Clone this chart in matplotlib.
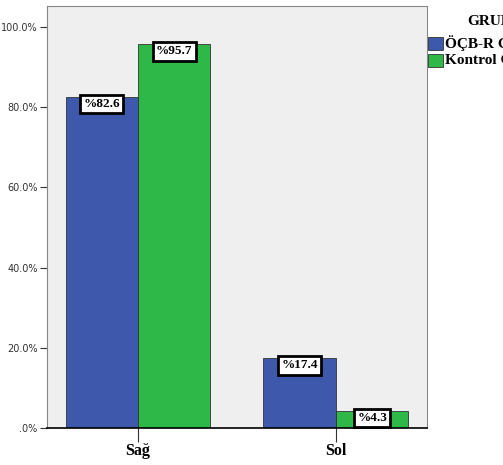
import matplotlib.pyplot as plt
from matplotlib.patches import Rectangle
from matplotlib.ticker import FuncFormatter

# data
categories = ["Sağ", "Sol"]
groups = ["ÖÇB-R Grubu", "Kontrol Grubu"]
ocbr_vals = [82.6, 17.4]
kontrol_vals = [95.7, 4.3]
colors = ["#3E58AC", "#2EB848"]

W, H = 503, 465
fig = plt.figure(figsize=(W / 100, H / 100), dpi=100)
ax = fig.add_axes([46.7 / W, 37 / H, (427 - 46.7) / W, (459 - 37) / H])
ax.set_facecolor("#EFEFEF")

x = [0, 1]
bw = 0.366
for i, vals in enumerate([ocbr_vals, kontrol_vals]):
    pos = [xi - bw / 2 + i * bw for xi in x]
    ax.bar(pos, vals, width=bw, color=colors[i], edgecolor="#333333", linewidth=0.6)
    for p, v in zip(pos, vals):
        ax.text(p, v - 0.3, "%%%.1f" % v, ha="center", va="top", fontsize=9.5,
                family="Liberation Serif", fontweight="bold",
                bbox=dict(boxstyle="square,pad=0.25", fc="white", ec="black", lw=2))

ax.set_xlim(-0.461, 1.46)
ax.set_ylim(0, 105.2)
ax.set_yticks([0, 20, 40, 60, 80, 100])
ax.yaxis.set_major_formatter(FuncFormatter(lambda v, _: ".0%" if v == 0 else "%.1f%%" % v))
ax.set_xticks(x)
ax.set_xticklabels(categories, family="Liberation Serif", fontweight="bold", fontsize=11.5)
ax.tick_params(axis="y", labelsize=7, labelcolor="#333333", length=5, color="#333333", pad=1.5)
ax.tick_params(axis="x", length=10, color="#333333", pad=1)

for s in ["left", "top", "right"]:
    ax.spines[s].set_color("#888888")
ax.spines["bottom"].set_color("black")
ax.spines["bottom"].set_linewidth(1.2)

# legend drawn by hand, cut off at the right edge like the reference
fig.text(467 / W, 1 - 25 / H, "GRUP", family="Liberation Serif", fontweight="bold",
         fontsize=11, va="baseline")
for i, g in enumerate(groups):
    y0 = 37 + i * 17
    fig.patches.append(Rectangle((428 / W, 1 - (y0 + 13) / H), 15 / W, 13 / H,
                                 transform=fig.transFigure, fc=colors[i], ec="#333333", lw=0.6))
    fig.text(445 / W, 1 - (y0 + 6.5) / H, g, family="Liberation Serif", fontweight="bold",
             fontsize=11, va="center")

fig.savefig("out.png", dpi=100)
